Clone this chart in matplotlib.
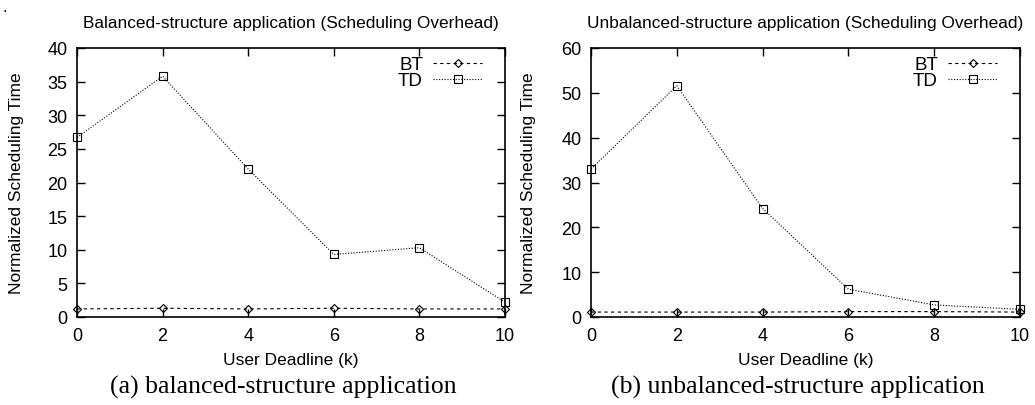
import matplotlib
matplotlib.use("Agg")
import matplotlib.pyplot as plt

deadline = [0, 2, 4, 6, 8, 10]
bal_bt = [1.2, 1.3, 1.2, 1.3, 1.2, 1.2]
bal_td = [26.7, 35.8, 22.0, 9.3, 10.3, 2.2]
unb_bt = [1.1, 1.1, 1.1, 1.2, 1.2, 1.1]
unb_td = [33.0, 51.6, 24.2, 6.2, 2.7, 1.7]

titles = ["Balanced-structure application (Scheduling Overhead)",
          "Unbalanced-structure application (Scheduling Overhead)"]
captions = ["(a) balanced-structure application", "(b) unbalanced-structure application"]
ylims = [(0, 40), (0, 60)]
yticks = [[0, 5, 10, 15, 20, 25, 30, 35, 40], [0, 10, 20, 30, 40, 50, 60]]

plt.rcParams['font.family'] = ['Liberation Sans', 'DejaVu Sans']
fig = plt.figure(figsize=(10.35, 4.06), dpi=100)
W, H = 1035, 406
axes_px = [(77, 49, 505, 318), (591, 49, 1020, 318)]
ylabel_px = [17, 529]
caption_px = [283, 798]
data = [(bal_bt, bal_td), (unb_bt, unb_td)]

for i, (x0, y0, x1, y1) in enumerate(axes_px):
    ax = fig.add_axes([x0 / W, 1 - y1 / H, (x1 - x0) / W, (y1 - y0) / H])
    bt, td = data[i]
    ax.plot(deadline, bt, linestyle=(0, (3, 3)), color='black', linewidth=0.8,
            marker='D', markersize=4.5, markerfacecolor='none', markeredgewidth=0.8,
            label='BT', clip_on=False)
    ax.plot(deadline, td, linestyle=(0, (1, 1.5)), color='black', linewidth=0.8,
            marker='s', markersize=6, markerfacecolor='none', markeredgewidth=0.8,
            label='TD', clip_on=False)
    ax.set_xlim(0, 10)
    ax.set_ylim(*ylims[i])
    ax.set_xticks(deadline)
    ax.set_yticks(yticks[i])
    ax.tick_params(direction='in', top=True, right=True, labelsize=13, length=6, width=1, pad=7)
    for s in ax.spines.values():
        s.set_linewidth(1.2)
    ax.set_title(titles[i], fontsize=12.4, pad=15)
    ax.set_xlabel("User Deadline (k)", fontsize=12.5)
    ax.xaxis.set_label_coords(0.5, (y1 - 360) / (y1 - y0))
    ax.set_ylabel("Normalized Scheduling Time", fontsize=12.5)
    ax.yaxis.set_label_coords((ylabel_px[i] - x0) / (x1 - x0), 0.5)
    ax.xaxis.label.set_va('center')
    ax.yaxis.label.set_va('center')
    ax.legend(loc='upper right', markerfirst=False, frameon=False, fontsize=13.5,
              handlelength=2.6, handletextpad=0.55, labelspacing=-0.05,
              borderaxespad=0, borderpad=0,
              bbox_to_anchor=((x1 - 23) / W, 1 - 57 / H),
              bbox_transform=fig.transFigure)
    fig.text(caption_px[i] / W, 1 - 387 / H, captions[i], ha='center', va='center',
             fontsize=18.5, family=['Liberation Serif', 'DejaVu Serif'])

fig.text(3 / W, 1 - 8 / H, ".", fontsize=12, ha='left', va='center')
fig.savefig("out.png", dpi=100)
